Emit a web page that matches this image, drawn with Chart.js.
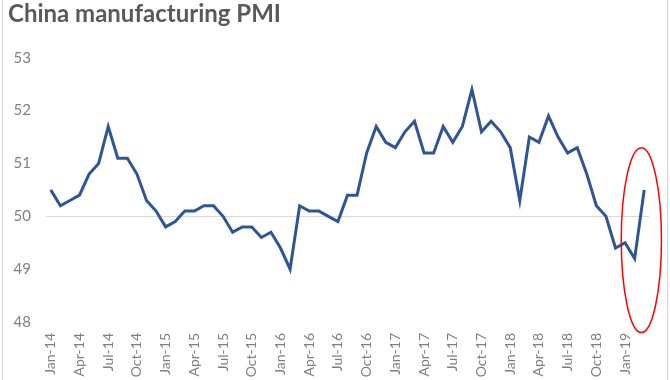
<!DOCTYPE html>
<html>
<head>
<meta charset="utf-8">
<script src="https://cdn.jsdelivr.net/npm/chart.js@4.4.1/dist/chart.umd.min.js"></script>
<style>
html,body{margin:0;padding:0;background:#fff;}
#wrap{position:relative;height:380px;box-sizing:border-box;border-left:1px solid #d4d4d4;border-right:1px solid #d4d4d4;margin-left:2px;width:666px;}
canvas{display:block;}
</style>
</head>
<body>
<div id="wrap"><canvas id="c" width="664" height="380"></canvas></div>
<script>
const months = ['Jan','Feb','Mar','Apr','May','Jun','Jul','Aug','Sep','Oct','Nov','Dec'];
const years = ['14','15','16','17','18','19'];
const categories = [];
years.forEach(y => months.forEach(m => categories.push(m + '-' + y)));
categories.length = 63; // Jan-14 .. Mar-19

const pmi = [
  50.5, 50.2, 50.3, 50.4, 50.8, 51.0, 51.7, 51.1, 51.1, 50.8, 50.3, 50.1,
  49.8, 49.9, 50.1, 50.1, 50.2, 50.2, 50.0, 49.7, 49.8, 49.8, 49.6, 49.7,
  49.4, 49.0, 50.2, 50.1, 50.1, 50.0, 49.9, 50.4, 50.4, 51.2, 51.7, 51.4,
  51.3, 51.6, 51.8, 51.2, 51.2, 51.7, 51.4, 51.7, 52.4, 51.6, 51.8, 51.6,
  51.3, 50.3, 51.5, 51.4, 51.9, 51.5, 51.2, 51.3, 50.8, 50.2, 50.0, 49.4,
  49.5, 49.2, 50.5
];

const yTicks = [48, 49, 50, 51, 52, 53];
const highlight = {fromIndex: 59.6, toIndex: 63.8, top: 51.3, bottom: 47.8};

const ellipsePlugin = {
  id: 'ellipse',
  afterDatasetsDraw(chart) {
    const x = chart.scales.x, y = chart.scales.y;
    const x1 = x.getPixelForValue(highlight.fromIndex);
    const x2 = x.getPixelForValue(highlight.toIndex);
    const y1 = y.getPixelForValue(highlight.top);
    const y2 = y.getPixelForValue(highlight.bottom);
    const ctx = chart.ctx;
    ctx.save();
    ctx.beginPath();
    ctx.ellipse((x1 + x2) / 2, (y1 + y2) / 2, (x2 - x1) / 2, (y2 - y1) / 2, 0, 0, Math.PI * 2);
    ctx.strokeStyle = '#ff0000';
    ctx.lineWidth = 1.5;
    ctx.stroke();
    ctx.restore();
  }
};

new Chart(document.getElementById('c'), {
  type: 'line',
  data: {
    labels: categories,
    datasets: [{
      data: pmi,
      borderColor: '#2f5597',
      borderWidth: 3,
      pointRadius: 0,
      tension: 0,
      fill: false
    }]
  },
  options: {
    responsive: false,
    animation: false,
    layout: {padding: {left: 5, right: 18, top: 0, bottom: 0}},
    plugins: {
      legend: {display: false},
      tooltip: {enabled: false},
      title: {
        display: true,
        text: 'China manufacturing PMI',
        align: 'start',
        color: '#595959',
        font: {family: 'Lato', size: 24, weight: 'bold'},
        padding: {top: 0, bottom: 29}
      }
    },
    scales: {
      x: {
        offset: true,
        grid: {display: false, drawTicks: false},
        border: {display: false},
        afterFit: s => { s.height = 58; },
        ticks: {
          autoSkip: false,
          maxRotation: 90,
          minRotation: 90,
          color: '#7f7f7f',
          padding: 11,
          font: {family: 'Lato', size: 14},
          callback: function(v, i) { return i % 3 === 0 ? categories[i] : null; }
        }
      },
      y: {
        min: yTicks[0],
        max: yTicks[yTicks.length - 1],
        afterBuildTicks: s => { s.ticks = yTicks.map(v => ({value: v})); },
        afterFit: s => { s.width = 38; },
        grid: {
          drawTicks: false,
          color: c => c.tick && c.tick.value === 50 ? '#d9d9d9' : 'rgba(0,0,0,0)',
          lineWidth: 1
        },
        border: {display: false},
        ticks: {
          color: '#7f7f7f',
          padding: 15,
          font: {family: 'Lato', size: 15}
        }
      }
    }
  },
  plugins: [ellipsePlugin]
});
</script>
</body>
</html>
